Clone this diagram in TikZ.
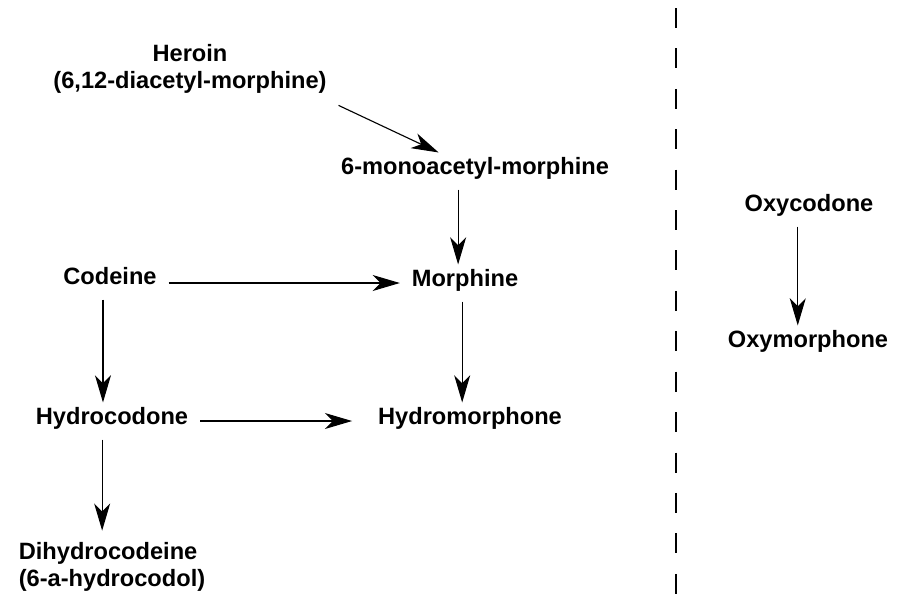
\documentclass[tikz,border=0pt]{standalone}
\usepackage{fontspec}
\setmainfont{Liberation Sans}
\usetikzlibrary{arrows.meta}
\begin{document}
\begin{tikzpicture}[x=0.025cm, y=-0.025cm,
    drug/.style={font=\fontsize{16.8}{19}\selectfont\bfseries, inner sep=0pt, outer sep=0.3cm,
                 text height=0.72em, text depth=0.21em},
    conv/.style={line width=0.8pt, -{Stealth[length=0.68cm, width=0.4cm, inset=0.2cm]}},
    divider/.style={line width=1.3pt, dash pattern=on 0.5cm off 0.51cm}]
    \useasboundingbox (0,0) rectangle (898,595);
    \node[drug, align=center, text height=, text depth=] (her) at (190,69) {Heroin\\(6,12-diacetyl-morphine)};
    \node[drug] (mam) at (475,171) {6-monoacetyl-morphine};
    \node[drug] (cod) at (110,281) {Codeine};
    \node[drug] (mor) at (465,283) {Morphine};
    \node[drug] (hyc) at (112,421) {Hydrocodone};
    \node[drug] (hym) at (470,421) {Hydromorphone};
    \node[drug, align=left, text height=, text depth=] (dhc) at (112,567) {Dihydrocodeine\\(6-a-hydrocodol)};
    \node[drug] (oxc) at (809,208) {Oxycodone};
    \node[drug] (oxm) at (808,344) {Oxymorphone};
    \draw[conv] (her.south east) -- (mam.153);
    \draw[conv] ([xshift=-12]mam.south) -- ([xshift=-12]mam.south |- mor.north);
    \draw[conv] (cod.east |- mor) -- (mor.west);
    \draw[conv] ([xshift=-2]mor.south) -- ([xshift=-2]mor.south |- hym.north);
    \draw[conv] ([xshift=-5]cod.south) -- ([xshift=-5]cod.south |- hyc.north);
    \draw[conv, shorten >=10] (hyc.east) -- (hym.west);
    \draw[conv] ([xshift=-7]hyc.south) -- ([xshift=-7]hyc.south |- dhc.north);
    \draw[conv] ([xshift=-8]oxc.south) -- ([xshift=-8]oxc.south |- oxm.north);
    \draw[divider] (676,8) -- (676,595);
\end{tikzpicture}
\end{document}
